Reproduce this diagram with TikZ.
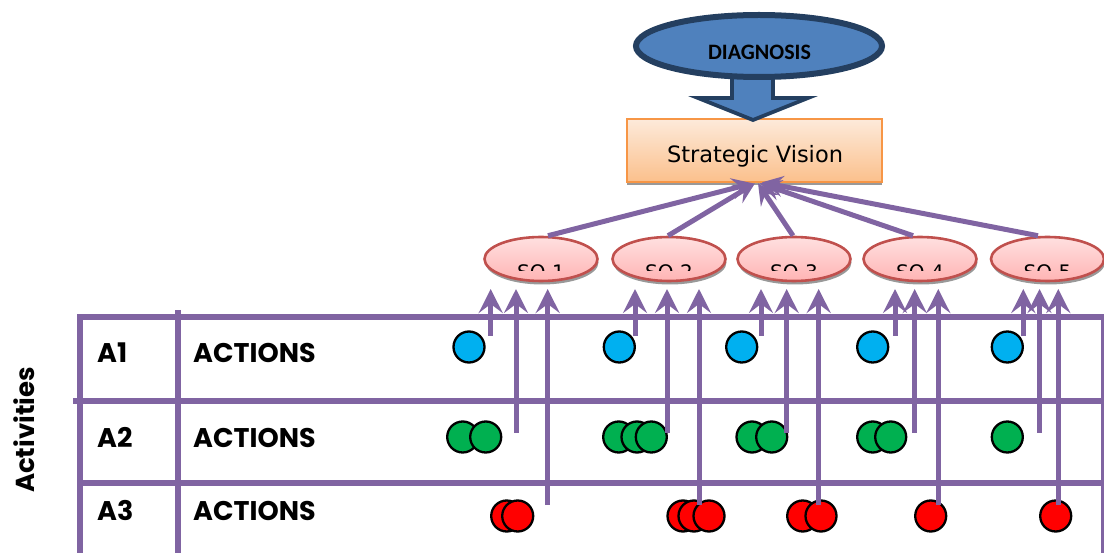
\documentclass[tikz,border=0pt]{standalone}
\usepackage{fontspec}
\usetikzlibrary{arrows.meta,shapes.geometric,shadows,calc}
\newfontfamily\tablefont{Poppins}
\newfontfamily\calibrifont{Carlito}
\newfontfamily\verdanafont{DejaVu Sans}
\definecolor{gridpurple}{HTML}{8064A2}
\definecolor{diagfill}{HTML}{4F81BD}
\definecolor{diagline}{HTML}{243F60}
\definecolor{svtop}{HTML}{FDEADA}
\definecolor{svbottom}{HTML}{FBC08C}
\definecolor{svline}{HTML}{F79646}
\definecolor{sotop}{HTML}{FFE0E0}
\definecolor{sobottom}{HTML}{FFB4B4}
\definecolor{soline}{HTML}{C0504D}
\definecolor{cblue}{HTML}{00B0F0}
\definecolor{cgreen}{HTML}{00B050}
\definecolor{cred}{HTML}{FF0000}
\begin{document}
\begin{tikzpicture}[x=1pt,y=-1pt,
  gridline/.style={draw=gridpurple,line width=6pt},
  uparrow/.style={draw=gridpurple,line width=5pt,-{Stealth[length=24pt,width=24pt,inset=9pt]}},
  toparrow/.style={draw=gridpurple,line width=5pt,-{Stealth[length=21pt,width=21pt,inset=8pt]}},
  dot/.style={circle,draw=black,line width=2.3pt,minimum size=31pt,inner sep=0pt},
  soell/.style={ellipse,draw=soline,line width=2.6pt,top color=sotop,bottom color=sobottom,
    minimum width=113pt,minimum height=44pt,inner sep=0pt,
    drop shadow={shadow xshift=1pt,shadow yshift=-3.5pt,opacity=1,fill=black!40}},
  sotext/.style={anchor=base,inner sep=0pt,font=\verdanafont\fontsize{20}{24}\selectfont},
  rowtext/.style={anchor=base west,inner sep=0pt,font=\tablefont\bfseries\fontsize{27}{32}\selectfont},
]
\useasboundingbox (0,0) rectangle (1104,553);

% strategic vision box
\node[draw=svline,line width=2.6pt,top color=svtop,bottom color=svbottom,
      minimum width=255pt,minimum height=63pt,inner sep=0pt,
      drop shadow={shadow xshift=0pt,shadow yshift=-3.5pt,opacity=1,fill=black!40}]
      (sv) at (754.5,150.5) {};
\node[anchor=base,inner sep=0pt,font=\verdanafont\fontsize{22.5}{27}\selectfont]
      (svtext) at (755,163) {Strategic Vision};

% block arrow from the diagnosis down to the vision
\draw[fill=diagfill,draw=diagline,line width=3.8pt,line join=miter]
  (732,70) -- (773,70) -- (773,98) -- (808,98) -- (753,120) -- (698,98) -- (732,98) -- cycle;

% diagnosis ellipse
\node[ellipse,fill=diagfill,draw=diagline,line width=6pt,
      minimum width=246pt,minimum height=62pt,inner sep=0pt] (diag) at (759,46) {};
\node[inner sep=0pt,font=\calibrifont\bfseries\fontsize{22}{26}\selectfont] (diagtext) at (759.5,52) {DIAGNOSIS};

% strategic objectives
\foreach \i/\cx in {1/541,2/669,3/794,4/920,5/1047.5} {
  \node[soell] (so\i) at (\cx,259) {};
  \begin{scope}
    \clip (\cx-45,250) rectangle (\cx+45,271);
    \node[sotext] (sot\i) at (\cx,280) {SO \i};
  \end{scope}
}

% links from the objectives to the vision
\draw[toparrow] ($(so1.north)+(7,0)$) -- ($(sv.south)+(-1.5,0)$);
\draw[toparrow] ($(so2.north)+(-1,0)$) -- ($(sv.south)+(0.5,0)$);
\draw[toparrow] ($(so3.north)+(-1,0)$) -- ($(sv.south)+(3.5,0)$);
\draw[toparrow] ($(so4.north)+(-7,0)$) -- ($(sv.south)+(5.5,0)$);
\draw[toparrow] ($(so5.north)+(-9.5,0)$) -- ($(sv.south)+(7.5,-1)$);

% activity grid
\draw[gridline] (77,317.5) -- (1104,317.5);
\draw[gridline] (73,401) -- (1104,401);
\draw[gridline] (80,482.5) -- (1104,482.5);
\draw[gridline] (79.5,315) -- (79.5,553);
\draw[gridline] (177.5,310) -- (177.5,553);
\draw[gridline] (1103.5,315) -- (1103.5,553);

% row labels
\node[rowtext] (a1) at (97,363) {A1};
\node[rowtext] (a2) at (97,447) {A2};
\node[rowtext] (a3) at (97,520) {A3};
\node[rowtext] (act1) at (193,363) {ACTIONS};
\node[rowtext] (act2) at (193,447) {ACTIONS};
\node[rowtext] (act3) at (193,520) {ACTIONS};
\node[rotate=90,inner sep=0pt,font=\tablefont\bfseries\fontsize{26}{30}\selectfont]
      (activities) at (24,430) {Activities};

% action markers
\foreach \x [count=\k] in {469,619.3,741.7,872.7,1007.3}
  \node[dot,fill=cblue] (blue\k) at (\x,347) {};
\foreach \x [count=\k] in {462.7,485.7,618.7,637,651.3,752,771.7,872.7,890.7,1007.3}
  \node[dot,fill=cgreen] (green\k) at (\x,437) {};
\foreach \x [count=\k] in {506.7,517.7,683,694,709,802.7,821,930.7,1055.7}
  \node[dot,fill=cred] (red\k) at (\x,516) {};

% contributions of the actions to the objectives
\foreach \x/\y [count=\k] in {490.7/336,516/433,547.7/505,
                              635/336,667/433,699/505,
                              761/336,786.7/433,818.7/505,
                              895/336,914.7/433,938.3/505,
                              1023.3/336,1039.5/433,1058.3/505} {
  \coordinate (foot\k) at (\x,\y);
  \coordinate (tip\k) at (\x,289);
  \draw[uparrow] (foot\k) -- (tip\k);
}
\end{tikzpicture}
\end{document}
